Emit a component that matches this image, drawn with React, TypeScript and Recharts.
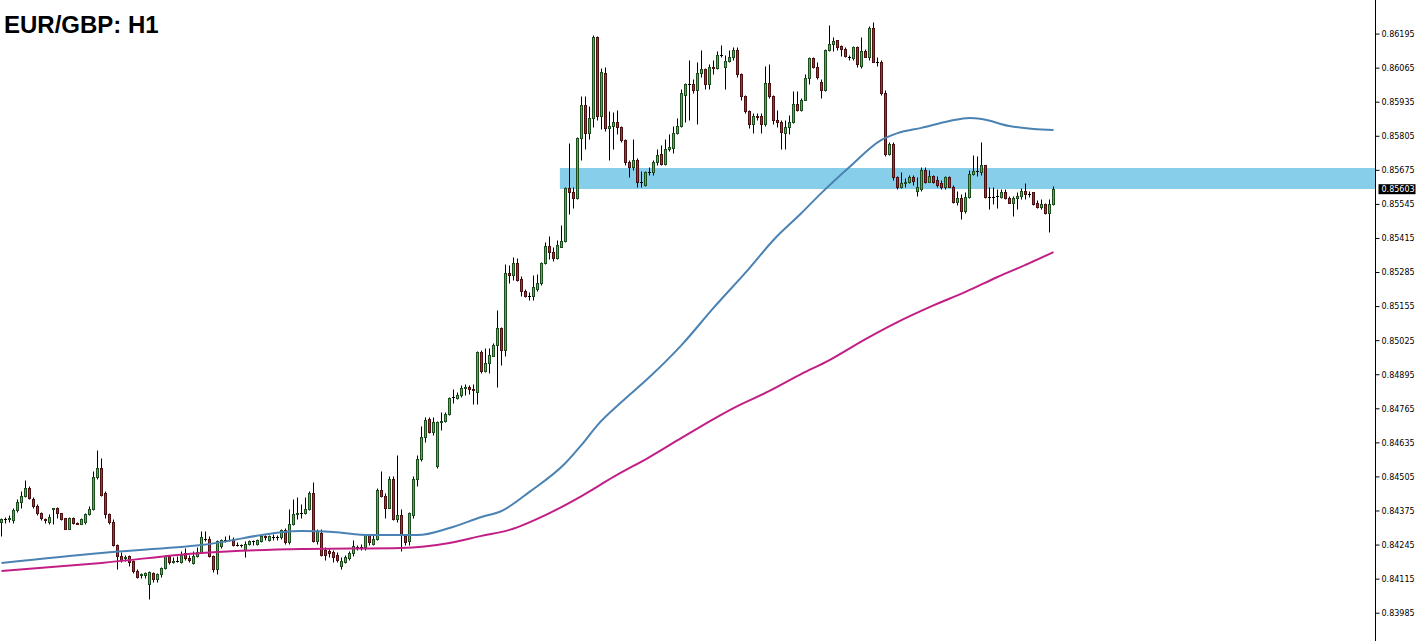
import React from "react";
import { ComposedChart, Bar, Line, XAxis, YAxis, ReferenceArea } from "recharts";

// EUR/GBP H1 candles, prices kept in points (1 point = 0.00001)
const OPEN = [
  84333, 84341, 84341, 84337, 84375, 84406, 84432, 84459, 84417, 84394,
  84364, 84341, 84333, 84379, 84383, 84364, 84345, 84306, 84345, 84329,
  84325, 84333, 84360, 84379, 84501, 84539, 84440, 84360, 84333, 84245,
  84203, 84192, 84200, 84184, 84146, 84127, 84127, 84096, 84135, 84112,
  84131, 84154, 84200, 84180, 84184, 84180, 84211, 84192, 84173, 84200,
  84215, 84268, 84268, 84200, 84150, 84238, 84261, 84261, 84268, 84242,
  84245, 84226, 84249, 84257, 84249, 84257, 84276, 84261, 84272, 84272,
  84272, 84299, 84253, 84322, 84360, 84364, 84364, 84379, 84440, 84257,
  84291, 84226, 84219, 84215, 84207, 84165, 84180, 84192, 84211, 84234,
  84234, 84234, 84280, 84249, 84268, 84455, 84432, 84386, 84497, 84341,
  84356, 84276, 84257, 84356, 84497, 84570, 84654, 84726, 84673, 84543,
  84711, 84715, 84745, 84810, 84806, 84814, 84844, 84848, 84837, 84829,
  84978, 84909, 84936, 84966, 85005, 85070, 84989, 85283, 85272, 85321,
  85260, 85214, 85192, 85192, 85222, 85245, 85318, 85386, 85363, 85337,
  85382, 85402, 85604, 85589, 85569, 85798, 85924, 85814, 85871, 86180,
  85882, 86046, 85833, 85844, 85856, 85837, 85787, 85703, 85684, 85714,
  85627, 85619, 85665, 85665, 85703, 85737, 85699, 85756, 85760, 85817,
  85844, 85962, 86001, 86001, 85978, 86046, 86058, 86004, 86069, 86062,
  86115, 86069, 86092, 86104, 86134, 86039, 85955, 85898, 85848, 85882,
  85879, 85848, 86008, 85955, 85867, 85859, 85817, 85840, 85856, 85928,
  85905, 85943, 86027, 86100, 86069, 86012, 85978, 86134, 86157, 86169,
  86146, 86138, 86104, 86100, 86142, 86073, 86130, 86107, 86218, 86088,
  86088, 85970, 85737, 85775, 85646, 85608, 85623, 85630, 85646, 85596,
  85600, 85676, 85630, 85650, 85638, 85623, 85608, 85646, 85611, 85554,
  85566, 85516, 85573, 85661, 85669, 85665, 85692, 85573, 85573, 85577,
  85573, 85589, 85566, 85547, 85569, 85577, 85596, 85581, 85589, 85547,
  85535, 85543, 85512, 85543,
];

const HIGH = [
  84348, 84352, 84356, 84386, 84417, 84448, 84493, 84467, 84425, 84398,
  84371, 84348, 84360, 84386, 84390, 84367, 84348, 84352, 84352, 84333,
  84345, 84367, 84394, 84524, 84604, 84577, 84448, 84364, 84341, 84249,
  84215, 84207, 84207, 84188, 84150, 84138, 84142, 84146, 84142, 84135,
  84161, 84207, 84203, 84196, 84200, 84219, 84230, 84207, 84222, 84234,
  84295, 84295, 84276, 84207, 84264, 84268, 84276, 84283, 84272, 84253,
  84249, 84257, 84264, 84264, 84268, 84283, 84280, 84283, 84287, 84280,
  84306, 84310, 84379, 84417, 84425, 84398, 84425, 84448, 84482, 84303,
  84303, 84234, 84230, 84226, 84215, 84196, 84207, 84222, 84261, 84245,
  84249, 84287, 84283, 84280, 84459, 84524, 84440, 84505, 84505, 84585,
  84379, 84287, 84371, 84505, 84585, 84696, 84730, 84730, 84730, 84715,
  84749, 84749, 84810, 84837, 84829, 84852, 84856, 84852, 84856, 84982,
  84989, 84997, 84997, 85016, 85142, 85077, 85314, 85310, 85344, 85340,
  85268, 85222, 85207, 85272, 85279, 85325, 85398, 85421, 85382, 85409,
  85466, 85608, 85779, 85608, 85802, 85955, 85955, 85917, 86188, 86184,
  86065, 86069, 85898, 85894, 85905, 85844, 85791, 85714, 85791, 85722,
  85669, 85672, 85684, 85714, 85753, 85768, 85791, 85810, 85844, 85871,
  85982, 86008, 86096, 86020, 86085, 86134, 86065, 86077, 86096, 86127,
  86153, 86115, 86134, 86142, 86142, 86043, 85962, 85905, 85890, 85890,
  85890, 86073, 86077, 85962, 85905, 85867, 85867, 85886, 85974, 85974,
  85951, 86039, 86107, 86107, 86085, 86020, 86138, 86226, 86180, 86172,
  86153, 86142, 86115, 86149, 86149, 86180, 86138, 86222, 86241, 86104,
  86096, 85978, 85783, 85783, 85653, 85665, 85642, 85657, 85657, 85646,
  85684, 85684, 85676, 85657, 85650, 85638, 85653, 85653, 85619, 85596,
  85581, 85589, 85676, 85733, 85726, 85783, 85695, 85608, 85611, 85600,
  85600, 85600, 85577, 85577, 85589, 85604, 85623, 85596, 85592, 85558,
  85562, 85550, 85562, 85615,
];

const LOW = [
  84276, 84329, 84333, 84329, 84371, 84386, 84425, 84417, 84386, 84356,
  84337, 84329, 84325, 84325, 84348, 84337, 84303, 84303, 84325, 84322,
  84322, 84325, 84356, 84375, 84497, 84432, 84348, 84325, 84238, 84150,
  84177, 84184, 84165, 84138, 84119, 84119, 84119, 84039, 84104, 84104,
  84123, 84150, 84169, 84173, 84177, 84173, 84188, 84177, 84169, 84196,
  84211, 84257, 84196, 84142, 84131, 84230, 84253, 84257, 84238, 84238,
  84234, 84196, 84242, 84245, 84245, 84253, 84264, 84257, 84264, 84264,
  84268, 84249, 84249, 84318, 84341, 84348, 84360, 84375, 84253, 84249,
  84200, 84188, 84196, 84177, 84177, 84150, 84173, 84188, 84203, 84226,
  84226, 84226, 84245, 84242, 84264, 84428, 84348, 84383, 84337, 84333,
  84219, 84245, 84245, 84348, 84467, 84562, 84635, 84669, 84665, 84539,
  84684, 84711, 84741, 84787, 84802, 84810, 84814, 84818, 84780, 84780,
  84898, 84902, 84898, 84963, 84848, 84932, 84963, 85245, 85253, 85249,
  85192, 85188, 85180, 85180, 85214, 85234, 85314, 85333, 85329, 85333,
  85379, 85398, 85505, 85531, 85562, 85714, 85753, 85791, 85840, 85867,
  85829, 85825, 85714, 85753, 85810, 85783, 85692, 85646, 85676, 85611,
  85611, 85615, 85657, 85657, 85695, 85695, 85695, 85745, 85741, 85810,
  85837, 85856, 85867, 85970, 85848, 86031, 85982, 85982, 86039, 86058,
  86104, 85985, 86085, 86096, 86031, 85943, 85890, 85833, 85817, 85867,
  85817, 85844, 85951, 85848, 85840, 85753, 85756, 85810, 85852, 85901,
  85898, 85940, 86004, 86065, 86020, 85951, 85974, 86127, 86127, 86134,
  86111, 86107, 86096, 86096, 86069, 86065, 86104, 86096, 86085, 86073,
  85962, 85726, 85733, 85638, 85600, 85604, 85611, 85623, 85619, 85577,
  85596, 85623, 85627, 85623, 85611, 85600, 85600, 85608, 85550, 85539,
  85489, 85512, 85566, 85657, 85650, 85657, 85569, 85524, 85543, 85531,
  85569, 85562, 85547, 85497, 85524, 85562, 85562, 85573, 85539, 85528,
  85524, 85508, 85436, 85539,
];

const CLOSE = [
  84341, 84341, 84345, 84375, 84406, 84432, 84459, 84421, 84394, 84364,
  84345, 84337, 84352, 84383, 84364, 84341, 84306, 84345, 84329, 84325,
  84341, 84360, 84379, 84501, 84539, 84436, 84360, 84333, 84245, 84200,
  84188, 84196, 84180, 84146, 84123, 84131, 84135, 84142, 84112, 84131,
  84154, 84200, 84177, 84184, 84184, 84207, 84192, 84188, 84200, 84215,
  84272, 84268, 84200, 84150, 84257, 84261, 84261, 84264, 84242, 84245,
  84242, 84249, 84257, 84257, 84261, 84276, 84272, 84276, 84272, 84272,
  84299, 84253, 84322, 84360, 84364, 84364, 84379, 84440, 84257, 84295,
  84207, 84207, 84211, 84196, 84188, 84184, 84196, 84211, 84238, 84234,
  84234, 84280, 84253, 84268, 84455, 84432, 84386, 84497, 84341, 84356,
  84280, 84253, 84364, 84497, 84570, 84654, 84719, 84673, 84711, 84711,
  84715, 84745, 84806, 84810, 84814, 84844, 84848, 84837, 84833, 84978,
  84909, 84936, 84970, 85008, 85070, 84989, 85283, 85272, 85321, 85256,
  85214, 85192, 85192, 85226, 85245, 85318, 85386, 85360, 85337, 85390,
  85402, 85604, 85589, 85569, 85798, 85924, 85814, 85871, 86180, 85882,
  86050, 85833, 85844, 85856, 85840, 85787, 85703, 85684, 85714, 85627,
  85627, 85665, 85665, 85703, 85733, 85699, 85756, 85764, 85817, 85844,
  85970, 86001, 86004, 85978, 86046, 86058, 86004, 86069, 86062, 86115,
  86115, 86092, 86104, 86134, 86039, 85955, 85898, 85848, 85882, 85875,
  85848, 86008, 85955, 85867, 85859, 85821, 85840, 85856, 85928, 85905,
  85943, 86027, 86100, 86069, 86031, 85978, 86134, 86157, 86165, 86142,
  86138, 86111, 86104, 86142, 86077, 86130, 86107, 86218, 86088, 86088,
  85970, 85737, 85775, 85646, 85608, 85623, 85630, 85646, 85634, 85611,
  85676, 85630, 85650, 85627, 85619, 85608, 85646, 85611, 85554, 85569,
  85516, 85573, 85661, 85672, 85669, 85692, 85573, 85573, 85573, 85577,
  85592, 85566, 85550, 85569, 85577, 85596, 85581, 85581, 85543, 85535,
  85543, 85512, 85543, 85603,
];

// moving averages: [bar index, points]
const MA_FAST = [
  [0, 84177], [25, 84215], [50, 84245], [75, 84299], [83, 84295], [92, 84283],
  [104, 84283], [112, 84310], [120, 84352], [125, 84375], [132, 84448], [141, 84558],
  [145, 84627], [149, 84703], [155, 84791], [162, 84886], [170, 85008], [178, 85150],
  [187, 85302], [193, 85409], [200, 85512], [205, 85589], [212, 85688], [220, 85791],
  [224, 85817], [230, 85837], [237, 85863], [242, 85875], [245, 85871], [252, 85844],
  [258, 85833], [263, 85829],
];

const MA_SLOW = [
  [0, 84146], [25, 84177], [50, 84215], [75, 84230], [100, 84234], [112, 84253],
  [120, 84280], [127, 84303], [137, 84367], [145, 84432], [153, 84505], [162, 84581],
  [170, 84654], [178, 84726], [183, 84768], [192, 84833], [200, 84898], [207, 84951],
  [216, 85031], [224, 85096], [232, 85153], [241, 85211], [249, 85268], [257, 85321],
  [263, 85363],
];

const PRICE_TICKS = [
  0.86195, 0.86065, 0.85935, 0.85805, 0.85675, 0.85545, 0.85415, 0.85285, 0.85155,
  0.85025, 0.84895, 0.84765, 0.84635, 0.84505, 0.84375, 0.84245, 0.84115, 0.83985,
];

const LAST_PRICE = 0.85603;
const ZONE = { from: 139.6, low: 0.85604, high: 0.85684 };
const Y_DOMAIN = [0.838789, 0.86325];
const X_DOMAIN = [-0.375, 343.5];

const PT = 100000;

const candles = OPEN.map((o, i) => ({
  i,
  o: o / PT,
  h: HIGH[i] / PT,
  l: LOW[i] / PT,
  c: CLOSE[i] / PT,
  range: [LOW[i] / PT, HIGH[i] / PT],
}));

const fastData = MA_FAST.map(([i, v]) => ({ i, v: v / PT }));
const slowData = MA_SLOW.map(([i, v]) => ({ i, v: v / PT }));

const UP = "#44bb44";
const UP_EDGE = "#1c4d1c";
const DOWN = "#c0272d";
const DOWN_EDGE = "#4d1012";

function Candle(props: any) {
  const { x, y, width, height, payload } = props;
  if (!payload || !isFinite(y) || !isFinite(x)) return null;
  const top = Math.min(y, y + height);
  const span = Math.abs(height);
  const range = payload.h - payload.l;
  const toY = (v: number) => (range > 0 ? top + ((payload.h - v) / range) * span : top);
  const snap = (v: number) => Math.floor(v) + 0.5;
  const cx = snap(x + width / 2);
  const bodyTop = snap(toY(Math.max(payload.o, payload.c)));
  const bodyBot = snap(toY(Math.min(payload.o, payload.c)));
  const up = payload.c >= payload.o;
  return (
    <g>
      <line x1={cx} x2={cx} y1={snap(top)} y2={snap(top + span)} stroke="#000" strokeWidth={1} />
      {bodyBot - bodyTop < 1 ? (
        <line x1={cx - 1.5} x2={cx + 1.5} y1={bodyTop} y2={bodyTop} stroke="#000" strokeWidth={1} />
      ) : (
        <rect
          x={cx - 1}
          y={bodyTop}
          width={2}
          height={bodyBot - bodyTop}
          fill={up ? UP : DOWN}
          stroke={up ? UP_EDGE : DOWN_EDGE}
          strokeWidth={1}
        />
      )}
    </g>
  );
}

function PriceTick(props: any) {
  const { x, y, payload } = props;
  const v = payload.value;
  const label = Number(v).toFixed(5);
  const font = { fontFamily: "DejaVu Sans", fontSize: 8 };
  if (Math.abs(v - LAST_PRICE) < 1e-9) {
    return (
      <g>
        <rect x={x - 3} y={y - 5} width={37} height={10} fill="#000" />
        <text x={x} y={y} dy="0.36em" fill="#fff" {...font}>
          {label}
        </text>
      </g>
    );
  }
  return (
    <g>
      <line x1={x - 6} x2={x - 2} y1={y} y2={y} stroke="#000" strokeWidth={1} />
      <text x={x} y={y} dy="0.36em" fill="#000" {...font}>
        {label}
      </text>
    </g>
  );
}

export default function App() {
  return (
    <div style={{ position: "absolute", left: 0, top: 0, width: 1421, height: 641, background: "#fff" }}>
      <ComposedChart
        width={1421}
        height={641}
        data={candles}
        margin={{ top: 0, right: 0, bottom: 0, left: 0 }}
      >
        <XAxis dataKey="i" type="number" domain={X_DOMAIN} allowDataOverflow hide />
        <YAxis
          orientation="right"
          type="number"
          domain={Y_DOMAIN}
          allowDataOverflow
          width={45.5}
          ticks={[...PRICE_TICKS, LAST_PRICE]}
          interval={0}
          tickSize={4}
          tickMargin={2}
          tickLine={false}
          axisLine={{ stroke: "#000" }}
          tick={<PriceTick />}
        />
        <ReferenceArea
          x1={ZONE.from}
          y1={ZONE.low}
          y2={ZONE.high}
          fill="#87ceeb"
          fillOpacity={1}
          stroke="none"
          ifOverflow="hidden"
        />
        <Line
          data={fastData}
          dataKey="v"
          type="monotone"
          stroke="#4a83b3"
          strokeWidth={2}
          dot={false}
          activeDot={false}
          isAnimationActive={false}
        />
        <Line
          data={slowData}
          dataKey="v"
          type="monotone"
          stroke="#c21f86"
          strokeWidth={2}
          dot={false}
          activeDot={false}
          isAnimationActive={false}
        />
        <Bar dataKey="range" barSize={4} shape={(p: any) => <Candle {...p} />} isAnimationActive={false} />
      </ComposedChart>
      <div
        style={{
          position: "absolute",
          left: 4,
          top: 13,
          fontFamily: "Liberation Sans, Arial, sans-serif",
          fontWeight: "bold",
          fontSize: 24,
          lineHeight: "24px",
          color: "#000",
        }}
      >
        EUR/GBP: H1
      </div>
    </div>
  );
}
